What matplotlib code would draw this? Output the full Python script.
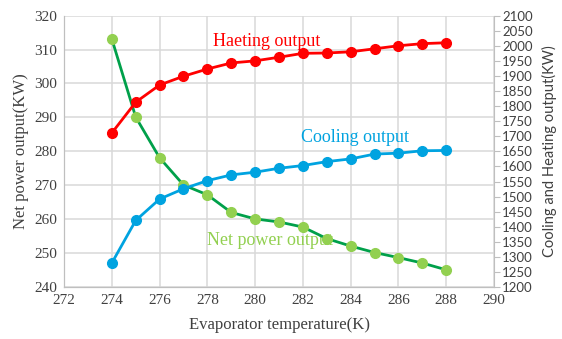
import numpy as np
import matplotlib.pyplot as plt

# evaporator temperature (K)
temp = [274, 275, 276, 277, 278, 279, 280, 281, 282, 283, 284, 285, 286, 287, 288]
# net power output (KW), left axis
net_power = [313.1, 290.1, 278.1, 270.1, 267.2, 262.0, 260.1, 259.2, 257.7,
             254.3, 252.1, 250.2, 248.7, 247.1, 245.1]
# heating and cooling output (KW), right axis
heating = [1711, 1813, 1870, 1899, 1923, 1943, 1950, 1962, 1975,
           1976, 1980, 1990, 2000, 2007, 2010]
cooling = [1280, 1421, 1492, 1526, 1553, 1572, 1581, 1594, 1603,
           1616, 1625, 1641, 1644, 1652, 1653]

serif = 'Liberation Serif'
sans = 'Lato'
grid_c = '#d9d9d9'
spine_c = '#bfbfbf'

fig = plt.figure(figsize=(5.62, 3.39), dpi=100)
ax1 = fig.add_axes([0.114, 0.153, 0.765, 0.801])
ax2 = ax1.twinx()

ax1.set_xlim(272, 290)
ax1.set_ylim(240, 320)
ax2.set_ylim(1200, 2100)
ax1.set_xticks(np.arange(272, 291, 2))
ax1.set_yticks(np.arange(240, 321, 10))
ax2.set_yticks(np.arange(1200, 2101, 50))

ax1.grid(True, color=grid_c, lw=1.1)
ax1.set_axisbelow(True)

for a in (ax1, ax2):
    for s in a.spines.values():
        s.set_color(spine_c)
    a.spines['top'].set_visible(False)
ax1.spines['right'].set_visible(False)

ax1.tick_params(axis='both', length=0, pad=5, labelsize=11, colors='#404040')
ax2.tick_params(axis='y', length=4, color=spine_c, pad=2, labelsize=9.5, colors='#404040')
for lab in ax1.get_xticklabels() + ax1.get_yticklabels():
    lab.set_family(serif)
for lab in ax2.get_yticklabels():
    lab.set_family(sans)

# all three curves go on the top axes so the grid stays underneath;
# net power uses the left-axis scale and sits below the other two
ax2.plot(temp, net_power, color='#00a04a', lw=2, marker='o', ms=7,
         mfc='#92d050', mec='#92d050', zorder=2, transform=ax1.transData)
ax2.plot(temp, heating, color='#ff0000', lw=2, marker='o', ms=7, zorder=3)
ax2.plot(temp, cooling, color='#00a3e0', lw=2, marker='o', ms=7, zorder=3)

ax1.text(280.5, 312.5, 'Haeting output', color='#ff0000', fontsize=13,
         family=serif, ha='center', va='center')
ax1.text(284.2, 284.0, 'Cooling output', color='#00a3e0', fontsize=13,
         family=serif, ha='center', va='center')
ax1.text(280.6, 253.8, 'Net power output', color='#92d050', fontsize=13,
         family=serif, ha='center', va='center')

ax1.set_xlabel('Evaporator temperature(K)', family=serif, fontsize=12, color='#404040', labelpad=7)
ax1.set_ylabel('Net power output(KW)', family=serif, fontsize=12, color='#404040', labelpad=4)
ax2.set_ylabel('Cooling and Heating output(KW)', family=sans, fontsize=10.5, color='#404040', labelpad=6)

fig.savefig('out.png', dpi=100)
